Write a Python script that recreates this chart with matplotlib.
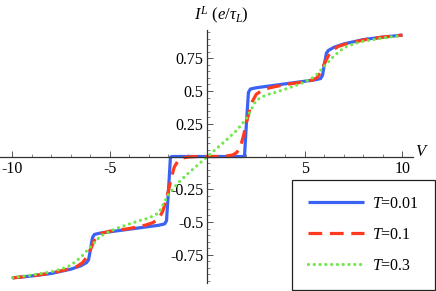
import matplotlib

matplotlib.use("Agg")
import matplotlib.pyplot as plt
from matplotlib.ticker import MultipleLocator, FixedLocator

plt.rcParams["font.family"] = ["Liberation Serif", "DejaVu Serif"]
plt.rcParams["mathtext.fontset"] = "custom"
plt.rcParams["mathtext.rm"] = "Liberation Serif"
plt.rcParams["mathtext.it"] = "Liberation Serif:italic"
plt.rcParams["axes.unicode_minus"] = False

# values
v_blue = [-10, -9, -8, -7, -6.5, -6.2, -6.1, -6.0, -5.9, -5.8, -5.5, -5, -4, -3, -2.5, -2.2,
          -2.1, -2.0, -1.9, -1.8, -1, 0, 1, 1.8, 1.9, 2.0, 2.1, 2.2, 2.5, 3, 4, 5, 5.5, 5.8,
          5.9, 6.0, 6.1, 6.2, 6.5, 7, 8, 9, 10]
i_blue = [-0.927, -0.912, -0.893, -0.86, -0.835, -0.81, -0.79, -0.71, -0.62, -0.595, -0.585,
          -0.575, -0.555, -0.535, -0.525, -0.515, -0.49, -0.26, -0.005, 0.0, 0.0, 0.0, 0.0,
          0.0, 0.005, 0.26, 0.49, 0.515, 0.525, 0.535, 0.555, 0.575, 0.585, 0.595, 0.62, 0.71,
          0.79, 0.81, 0.835, 0.86, 0.893, 0.912, 0.927]

v_red = [-10, -9, -8, -7, -6.7, -6.4, -6.2, -6.0, -5.8, -5.6, -5.4, -5, -4, -3.2, -2.8, -2.5,
         -2.3, -2.15, -2.0, -1.85, -1.7, -1.5, -1.3, -1.0, -0.5, 0, 0.5, 1.0, 1.3, 1.5, 1.7,
         1.85, 2.0, 2.15, 2.3, 2.5, 2.8, 3.2, 4, 5, 5.4, 5.6, 5.8, 6.0, 6.2, 6.4, 6.7, 7, 8, 9, 10]
i_red = [-0.927, -0.912, -0.89, -0.855, -0.84, -0.81, -0.77, -0.71, -0.64, -0.60, -0.585,
         -0.57, -0.55, -0.525, -0.505, -0.475, -0.42, -0.35, -0.26, -0.16, -0.08, -0.03,
         -0.012, -0.004, 0.0, 0.0, 0.0, 0.004, 0.012, 0.03, 0.08, 0.16, 0.26, 0.35, 0.42,
         0.475, 0.505, 0.525, 0.55, 0.57, 0.585, 0.60, 0.64, 0.71, 0.77, 0.81, 0.84, 0.855,
         0.89, 0.912, 0.927]

v_green = [-10, -9, -8, -7.5, -7, -6.5, -6, -5.5, -5, -4.5, -4, -3.5, -3, -2.5, -2, -1.5, -1,
           -0.5, 0, 0.5, 1, 1.5, 2, 2.5, 3, 3.5, 4, 4.5, 5, 5.5, 6, 6.5, 7, 7.5, 8, 9, 10]
i_green = [-0.925, -0.905, -0.88, -0.86, -0.83, -0.77, -0.69, -0.61, -0.57, -0.54, -0.515,
           -0.49, -0.47, -0.43, -0.29, -0.2, -0.13, -0.065, 0.0, 0.065, 0.13, 0.2, 0.29, 0.43,
           0.47, 0.49, 0.515, 0.54, 0.57, 0.61, 0.69, 0.77, 0.83, 0.86, 0.88, 0.905, 0.925]

fig = plt.figure(figsize=(4.36, 2.91), dpi=100)
ax = fig.add_axes([0.0, 8 / 291, 413 / 436, 253 / 291])
ax.set_xlim(-10.64, 10.54)
ax.set_ylim(-0.966, 0.966)

lw = 2.3
ax.plot(v_blue, i_blue, color="#3a63f5", lw=lw, label="$T$=0.01", solid_capstyle="butt")
ax.plot(v_red, i_red, color="#ff3a1e", lw=lw, dashes=(4.3, 2.4), label="$T$=0.1",
        dash_capstyle="butt")
ax.plot(v_green, i_green, color="#6fe84a", lw=lw, dashes=(0.01, 1.8), label="$T$=0.3",
        dash_capstyle="round")

for side in ("top", "right"):
    ax.spines[side].set_visible(False)
for side in ("left", "bottom"):
    ax.spines[side].set_position("zero")
    ax.spines[side].set_color("#333333")
    ax.spines[side].set_linewidth(0.9)

ax.xaxis.set_major_locator(FixedLocator([-10, -5, 5, 10]))
ax.xaxis.set_minor_locator(MultipleLocator(1))
ax.yaxis.set_major_locator(FixedLocator([-0.75, -0.5, -0.25, 0.25, 0.5, 0.75]))
ax.yaxis.set_minor_locator(MultipleLocator(0.05))
ax.set_xticklabels(["-10", "-5", "5", "10"])
ax.set_yticklabels(["-0.75", "-0.5", "-0.25", "0.25", "0.5", "0.75"])
ax.tick_params(which="both", direction="in", color="#555555", labelsize=11.5, pad=3)
ax.tick_params(which="major", length=4, width=0.7)
ax.tick_params(which="minor", length=2, width=0.5)

fig.text(422 / 436, 1 - 152 / 291, "$V$", fontsize=12, ha="center", va="center")
fig.text(221 / 436, 1 - 15 / 291, r"$I^L\ (e/\tau_L)$", fontsize=12, ha="center", va="center")

leg = fig.legend(loc="lower right", bbox_to_anchor=(435 / 436, 1 / 291), borderaxespad=0,
                 fontsize=11.5, handlelength=3.5, handletextpad=0.5, labelspacing=0.95,
                 borderpad=1.0, fancybox=False, framealpha=1)
leg.get_frame().set_edgecolor("#222222")
leg.get_frame().set_linewidth(0.9)

fig.savefig("out.png", dpi=100)
